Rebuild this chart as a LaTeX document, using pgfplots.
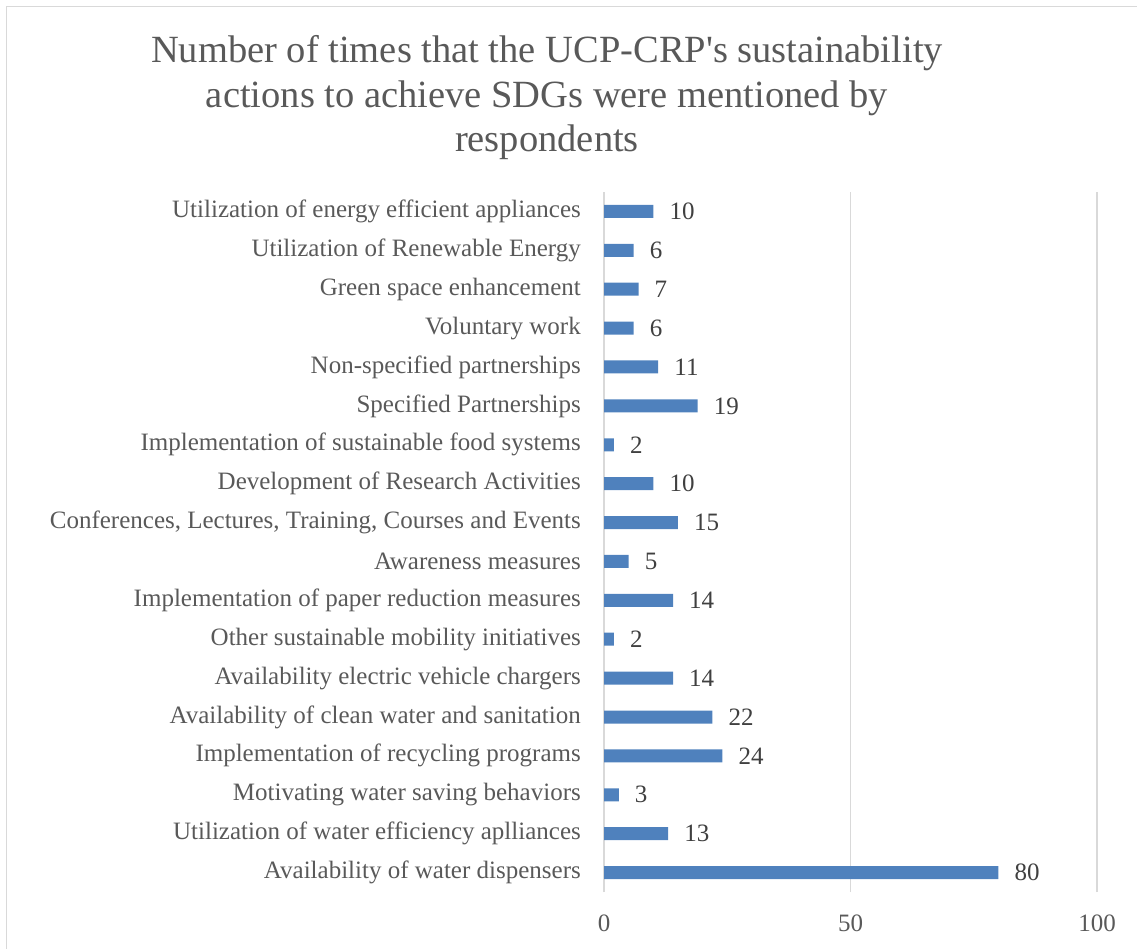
\documentclass[border=0pt]{standalone}
\usepackage{pgfplots}
\pgfplotsset{compat=1.18}
\usepackage{fontspec}
\setmainfont{Liberation Serif}
\newfontfamily\titlefont{Liberation Serif}[Ligatures=TeXOff]
\definecolor{barblue}{RGB}{79,129,189}
\definecolor{txtgray}{RGB}{89,89,89}
\definecolor{valgray}{RGB}{64,64,64}
\definecolor{gridgray}{RGB}{217,217,217}
\begin{document}
\begin{tikzpicture}[x=1pt,y=1pt]
\path[use as bounding box] (0,0) rectangle (1137,948);
\draw[gridgray, line width=1.5pt] (6.5,-20) rectangle (1160,941.5);
\node[text=txtgray, align=center, font=\titlefont\fontsize{38.5}{44.5}\selectfont] at (547,850)
  {Number of times that the UCP-CRP's sustainability\\actions to achieve SDGs were mentioned by\\respondents};
\begin{axis}[
  at={(604pt,56pt)}, anchor=south west,
  scale only axis, width=493pt, height=700pt,
  xbar, bar width=13pt,
  xmin=0, xmax=100, ymin=-0.5, ymax=17.5,
  xtick={0,50,100},
  ytick={0,...,17},
  yticklabels={Availability of water dispensers,
    Utilization of water efficiency aplliances,
    Motivating water saving behaviors,
    Implementation of recycling programs,
    Availability of clean water and sanitation,
    Availability electric vehicle chargers,
    Other sustainable mobility initiatives,
    Implementation of paper reduction measures,
    Awareness measures,
    {Conferences, Lectures, Training, Courses and Events},
    Development of Research Activities,
    Implementation of sustainable food systems,
    Specified Partnerships,
    Non-specified partnerships,
    Voluntary work,
    Green space enhancement,
    Utilization of Renewable Energy,
    Utilization of energy efficient appliances},
  axis line style={draw=none},
  major tick length=0pt,
  xmajorgrids,
  grid style={gridgray, line width=1.5pt},
  /pgf/number format/assume math mode=true,
  tick label style={text=txtgray, font=\fontsize{25}{30}\selectfont, inner sep=0pt},
  yticklabel style={anchor=east, xshift=-23pt},
  xticklabel style={anchor=north, yshift=-23pt},
  nodes near coords,
  every node near coord/.append style={text=valgray, font=\fontsize{25}{30}\selectfont, anchor=west, inner sep=0pt, xshift=16pt},
  clip=false,
]
\addplot[fill=barblue, draw=none] coordinates {
  (80,0) (13,1) (3,2) (24,3) (22,4) (14,5) (2,6) (14,7) (5,8) (15,9)
  (10,10) (2,11) (19,12) (11,13) (6,14) (7,15) (6,16) (10,17)
};
\end{axis}
\end{tikzpicture}
\end{document}
